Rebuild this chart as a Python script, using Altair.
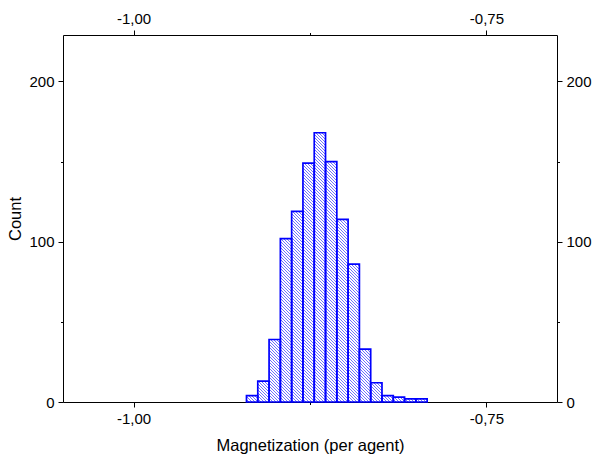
import math
import altair as alt
import pandas as pd

# Histogram of magnetization per agent
bin_lo = [-0.920, -0.912, -0.904, -0.896, -0.888, -0.880, -0.872, -0.864,
          -0.856, -0.848, -0.840, -0.832, -0.824, -0.816, -0.808, -0.800]
bin_hi = [-0.912, -0.904, -0.896, -0.888, -0.880, -0.872, -0.864, -0.856,
          -0.848, -0.840, -0.832, -0.824, -0.816, -0.808, -0.800, -0.792]
counts = [4, 13, 39, 102, 119, 149, 168, 150, 114, 86, 33, 12, 4, 3, 2, 2]

x_ticks = [-1.0, -0.875, -0.75]
y_ticks = [0, 50, 100, 150, 200]

X_DOMAIN = [-1.05, -0.70]
Y_DOMAIN = [0, 229]
W, H = 494, 367
BLUE = "#0000ff"
FONT = "Liberation Sans"

bars = pd.DataFrame({"lo": bin_lo, "hi": bin_hi, "count": counts})

# Diagonal hatching inside every bar, built from the bar extents
px_x = W / (X_DOMAIN[1] - X_DOMAIN[0])
px_y = H / (Y_DOMAIN[1] - Y_DOMAIN[0])
STEP = 3.0
segs = []
for lo, hi, n in zip(bin_lo, bin_hi, counts):
    x0 = (lo - X_DOMAIN[0]) * px_x
    x1 = (hi - X_DOMAIN[0]) * px_x
    h = n * px_y
    for k in range(math.ceil(x0 / STEP), math.floor((x1 + h) / STEP) + 1):
        c = k * STEP
        xa = max(x0, c - h)
        xb = min(x1, c)
        if xb - xa < 1e-6:
            continue
        segs.append({
            "xa": X_DOMAIN[0] + xa / px_x, "ya": (c - xa) / px_y,
            "xb": X_DOMAIN[0] + xb / px_x, "yb": (c - xb) / px_y,
        })
hatch = pd.DataFrame(segs)

x_scale = alt.Scale(domain=X_DOMAIN, nice=False, zero=False)
y_scale = alt.Scale(domain=Y_DOMAIN, nice=False)

x_label_expr = ("abs(datum.value + 0.875) < 1e-6 ? '' : "
                "'-' + replace(format(abs(datum.value), '.2f'), '.', ',')")
y_label_expr = "datum.value % 100 === 0 ? datum.label : ''"
x_tick_size = {"condition": {"test": "abs(datum.value + 0.875) > 1e-6", "value": 5}, "value": 2.5}
y_tick_size = {"condition": {"test": "datum.value % 100 === 0", "value": 5}, "value": 2.5}

common = dict(
    domainColor="black", domainWidth=1, tickColor="black", tickWidth=1,
    labelFont=FONT, labelFontSize=15, labelColor="black", labelPadding=4,
    titleFont=FONT, titleFontSize=16.5, titleFontWeight="normal", titleColor="black",
    grid=False,
)

hatch_layer = alt.Chart(hatch).mark_rule(
    stroke=BLUE, strokeWidth=0.8, opacity=0.7
).encode(
    x=alt.X("xa:Q", scale=x_scale,
            axis=alt.Axis(orient="top", values=x_ticks, labelExpr=x_label_expr,
                          tickSize=x_tick_size, title=None, **common)),
    x2="xb:Q",
    y=alt.Y("ya:Q", scale=y_scale,
            axis=alt.Axis(orient="right", values=y_ticks, labelExpr=y_label_expr,
                          tickSize=y_tick_size, title=None, **common)),
    y2="yb:Q",
)

outline_layer = alt.Chart(bars).mark_rect(
    fill="white", fillOpacity=0, stroke=BLUE, strokeWidth=1.7
).encode(
    x=alt.X("lo:Q", scale=x_scale,
            axis=alt.Axis(orient="bottom", values=x_ticks, labelExpr=x_label_expr,
                          tickSize=x_tick_size, title="Magnetization (per agent)",
                          titlePadding=11, **common)),
    x2="hi:Q",
    y=alt.Y("count:Q", scale=y_scale,
            axis=alt.Axis(orient="left", values=y_ticks, labelExpr=y_label_expr,
                          tickSize=y_tick_size, title="Count", titlePadding=5, **common)),
    y2=alt.datum(0),
)

chart = alt.layer(hatch_layer, outline_layer).resolve_axis(
    x="independent", y="independent"
).properties(
    width=W, height=H,
    autosize=alt.AutoSizeParams(type="none"),
    padding={"left": 63, "top": 35, "right": 35, "bottom": 52},
    background="white",
).configure_view(stroke=None)

chart.save("out.html", embed_options={"renderer": "svg", "actions": False})
